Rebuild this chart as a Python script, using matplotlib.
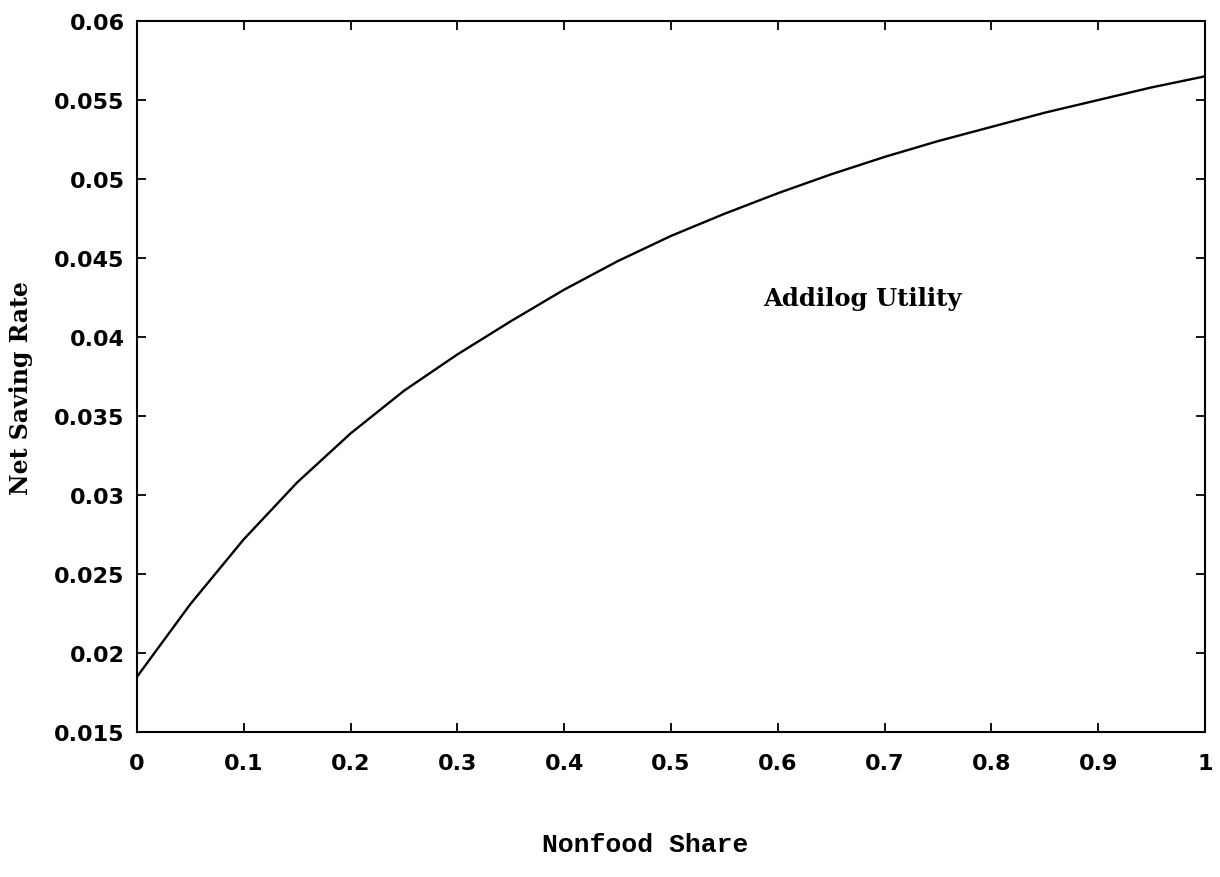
import matplotlib
matplotlib.use("Agg")
import matplotlib.pyplot as plt

nonfood_share = [0.0, 0.05, 0.1, 0.15, 0.2, 0.25, 0.3, 0.35, 0.4, 0.45, 0.5,
                 0.55, 0.6, 0.65, 0.7, 0.75, 0.8, 0.85, 0.9, 0.95, 1.0]
net_saving_rate = [0.0185, 0.0231, 0.0272, 0.0308, 0.0339, 0.0366, 0.0389,
                   0.0410, 0.0430, 0.0448, 0.0464, 0.0478, 0.0491, 0.0503,
                   0.0514, 0.0524, 0.0533, 0.0542, 0.0550, 0.0558, 0.0565]

x_ticks = [0, 0.1, 0.2, 0.3, 0.4, 0.5, 0.6, 0.7, 0.8, 0.9, 1]
x_tick_labels = ["0", "0.1", "0.2", "0.3", "0.4", "0.5", "0.6", "0.7", "0.8", "0.9", "1"]
y_ticks = [0.015, 0.02, 0.025, 0.03, 0.035, 0.04, 0.045, 0.05, 0.055, 0.06]
y_tick_labels = ["0.015", "0.02", "0.025", "0.03", "0.035", "0.04", "0.045", "0.05", "0.055", "0.06"]

fig = plt.figure(figsize=(12.2, 8.78), dpi=100)
ax = fig.add_axes([0.1123, 0.1651, 0.8754, 0.8098])

ax.plot(nonfood_share, net_saving_rate, color="black", linewidth=1.7,
        solid_joinstyle="round")

ax.set_xlim(0, 1)
ax.set_ylim(0.015, 0.06)
ax.set_xticks(x_ticks)
ax.set_xticklabels(x_tick_labels)
ax.set_yticks(y_ticks)
ax.set_yticklabels(y_tick_labels)

for s in ax.spines.values():
    s.set_linewidth(1.5)

ax.tick_params(axis="both", direction="in", length=6.5, width=1.3,
               top=True, right=True)
ax.tick_params(axis="x", pad=15)
ax.tick_params(axis="y", pad=9)
for lab in ax.get_xticklabels() + ax.get_yticklabels():
    lab.set_fontfamily("DejaVu Sans")
    lab.set_fontweight("bold")
    lab.set_fontsize(16)

ax.set_ylabel("Net Saving Rate", fontfamily="DejaVu Serif",
              fontweight="bold", fontsize=17)
ax.yaxis.set_label_coords(-0.097, 0.485)
ax.set_xlabel("Nonfood Share", fontfamily="Liberation Mono",
              fontweight="bold", fontsize=19)
ax.xaxis.set_label_coords(0.476, -0.14)

ax.text(0.586, 0.0425, "Addilog Utility", fontfamily="DejaVu Serif",
        fontweight="bold", fontsize=17.5, ha="left", va="center")

fig.savefig("out.png", dpi=100)
